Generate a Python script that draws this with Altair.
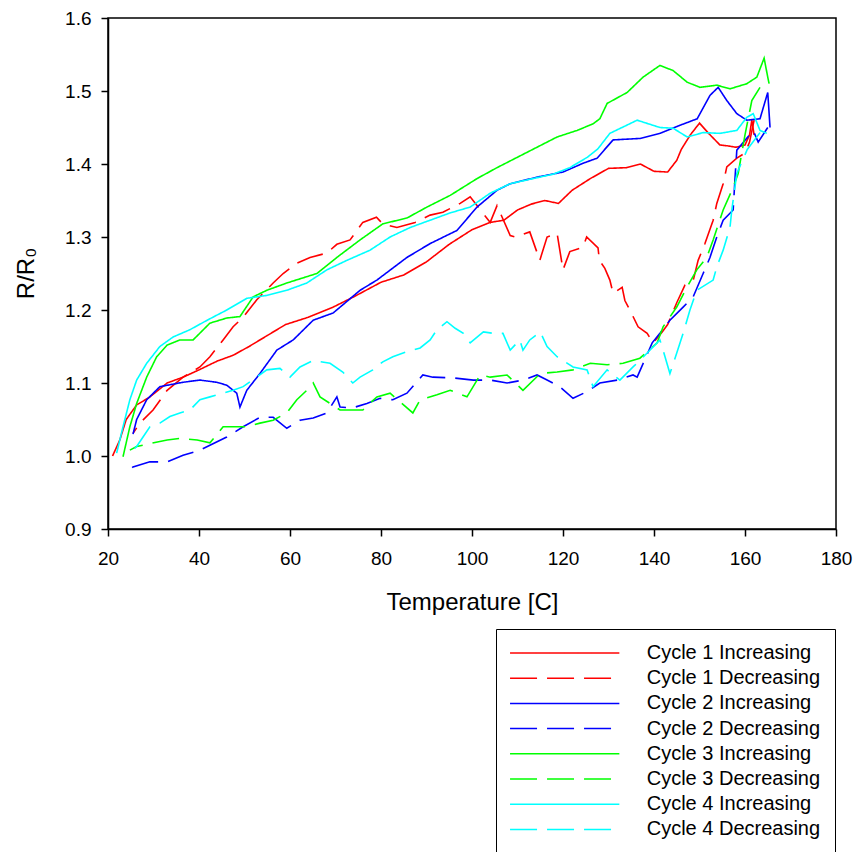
import altair as alt
import pandas as pd

# ---------------- data ----------------
series_names = [
    "Cycle 1 Increasing", "Cycle 1 Decreasing",
    "Cycle 2 Increasing", "Cycle 2 Decreasing",
    "Cycle 3 Increasing", "Cycle 3 Decreasing",
    "Cycle 4 Increasing", "Cycle 4 Decreasing",
]
series_colors = ["#FF0000", "#FF0000", "#0000FF", "#0000FF",
                 "#00FF00", "#00FF00", "#00FFFF", "#00FFFF"]

c1_inc_T = [21, 22.6, 24, 26.3, 29, 33, 36.5, 40, 44, 47.5, 51, 55, 59, 64, 69.5, 74, 80, 85, 90, 95,
            100, 104, 107, 110, 113, 116, 119, 122, 126, 130, 134, 137, 140, 143, 145, 146, 148, 150,
            152, 154.5, 156, 158, 160, 161, 161.5, 162]
c1_inc_R = [1.0, 1.022, 1.05, 1.07, 1.08, 1.1, 1.108, 1.118, 1.13, 1.138, 1.15, 1.165, 1.18, 1.19,
            1.204, 1.218, 1.238, 1.248, 1.266, 1.29, 1.31, 1.32, 1.323, 1.337, 1.345, 1.35, 1.346,
            1.364, 1.38, 1.394, 1.395, 1.40, 1.39, 1.389, 1.405, 1.42, 1.44, 1.456, 1.442, 1.426,
            1.425, 1.423, 1.426, 1.44, 1.46, 1.44]

c1_dec_T = [162, 161, 160, 158.2, 156, 155.2, 153.8, 153, 151.2, 149.7, 148.6, 146.8, 145, 143, 141.8,
            139.8, 138.5, 136.5, 134.7, 133.6, 133, 131, 130.3, 129.2, 128, 127.7, 125.2, 124.4, 121.5,
            120, 118.7, 116.5, 114.9, 112.7, 109.5, 108.4, 105.5, 104, 99.6, 97.4, 93.6, 90.8, 87.5,
            83.5, 80.4, 79, 76, 73.2, 70.3, 68.1, 64.4, 61.5, 58.5, 56.3, 52.7, 49.7, 47.5, 45.3, 42.4,
            40.2, 36.5, 33, 29.9, 27, 25.5]
c1_dec_R = [1.46, 1.43, 1.415, 1.408, 1.396, 1.373, 1.346, 1.323, 1.291, 1.268, 1.24, 1.234, 1.21, 1.18,
            1.17, 1.155, 1.168, 1.177, 1.2, 1.213, 1.231, 1.223, 1.241, 1.257, 1.268, 1.285, 1.30, 1.286,
            1.28, 1.255, 1.305, 1.30, 1.268, 1.307, 1.30, 1.302, 1.343, 1.32, 1.355, 1.346, 1.334, 1.33,
            1.32, 1.313, 1.318, 1.327, 1.32, 1.296, 1.29, 1.278, 1.272, 1.264, 1.25, 1.237, 1.214, 1.19,
            1.177, 1.159, 1.136, 1.122, 1.108, 1.09, 1.063, 1.045, 1.031]

c2_inc_T = [25.5, 26.3, 28.5, 31.4, 36.5, 40.2, 43.9, 46.1, 48.3, 49, 50.5, 53.4, 57.1, 60.7, 65.1,
            69.5, 75.4, 79.1, 85.7, 90.8, 96.7, 101.1, 105.5, 108.4, 114.3, 120, 124.4, 127.5, 131,
            136.9, 141.3, 145.7, 149.5, 152.3, 154.1, 156, 158.2, 160.4, 163.3, 165, 165.5]
c2_inc_R = [1.03, 1.05, 1.077, 1.095, 1.101, 1.104, 1.101, 1.097, 1.086, 1.067, 1.09, 1.113, 1.145,
            1.159, 1.186, 1.196, 1.227, 1.241, 1.272, 1.291, 1.309, 1.341, 1.364, 1.373, 1.382, 1.389,
            1.401, 1.408, 1.433, 1.435, 1.442, 1.453, 1.462, 1.494, 1.505, 1.487, 1.469, 1.46, 1.462,
            1.498, 1.45]

c2_dec_T = [165, 162.9, 161.8, 158.2, 157.8, 157.4, 155.2, 153.8, 152.3, 150.8, 148.6, 146.4, 143.5,
            141.3, 139.6, 136.3, 135.4, 131.9, 128.1, 125.2, 122.2, 119.3, 116.5, 114.3, 111.2, 107.7,
            104, 100.3, 95.8, 91.4, 89.2, 85.7, 82.6, 79.8, 76.9, 73.8, 71, 70.3, 68.1, 65.1, 62.2,
            59.3, 56.3, 53.4, 49.7, 46.1, 40.2, 36.5, 33, 29.2, 25.5, 24.1]
c2_dec_R = [1.45, 1.43, 1.446, 1.419, 1.38, 1.337, 1.323, 1.3, 1.272, 1.25, 1.218, 1.204, 1.186, 1.168,
            1.155, 1.108, 1.111, 1.104, 1.1, 1.088, 1.079, 1.095, 1.104, 1.111, 1.104, 1.1, 1.104,
            1.104, 1.107, 1.108, 1.111, 1.086, 1.077, 1.079, 1.072, 1.066, 1.067, 1.081, 1.059, 1.052,
            1.049, 1.038, 1.053, 1.053, 1.04, 1.026, 1.008, 1.001, 0.992, 0.992, 0.985, 0.978]

c3_inc_T = [23.3, 24.8, 26.3, 28.5, 30.7, 33, 35.8, 38.7, 42.4, 46.1, 49, 51.9, 54.9, 59.3, 65.9, 70.3,
            75.4, 80.4, 85.7, 90.1, 95.2, 101.1, 105.5, 109.9, 114.3, 118.7, 123.1, 126.6, 128.1, 129.7,
            134.1, 137.6, 141.3, 144.2, 147.3, 150.1, 153.8, 156.7, 160.4, 162.6, 164.2, 165, 165.3]
c3_inc_R = [0.999, 1.04, 1.072, 1.108, 1.136, 1.152, 1.159, 1.159, 1.182, 1.189, 1.191, 1.218, 1.227,
            1.237, 1.25, 1.272, 1.296, 1.318, 1.326, 1.341, 1.357, 1.38, 1.395, 1.409, 1.423, 1.437,
            1.446, 1.455, 1.462, 1.483, 1.498, 1.519, 1.535, 1.528, 1.512, 1.505, 1.508, 1.503, 1.51,
            1.519, 1.545, 1.519, 1.51]

c3_dec_T = [163.3, 161.5, 160, 158.5, 157.4, 155.2, 153, 151.6, 149.4, 147.3, 145, 142, 140.7, 136.9,
            133.2, 129.7, 126, 122.2, 118.7, 115, 111.2, 107.7, 104, 101.8, 98.9, 95.2, 92.3, 88.6, 87,
            82, 79.1, 76, 73.2, 71, 66.6, 65.1, 63.7, 61.5, 59.3, 56.3, 53.4, 50.5, 47.5, 45.3, 42.4,
            39.6, 35.8, 33, 29.2, 26.3, 24.8]
c3_dec_R = [1.505, 1.487, 1.44, 1.387, 1.368, 1.337, 1.296, 1.272, 1.255, 1.232, 1.204, 1.177, 1.155,
            1.134, 1.127, 1.125, 1.127, 1.118, 1.115, 1.113, 1.09, 1.111, 1.108, 1.111, 1.081, 1.09,
            1.084, 1.077, 1.059, 1.086, 1.081, 1.063, 1.063, 1.063, 1.081, 1.1, 1.09, 1.077, 1.059,
            1.049, 1.045, 1.04, 1.04, 1.04, 1.018, 1.022, 1.024, 1.022, 1.017, 1.013, 1.008]

c4_inc_T = [21.9, 23.3, 24.8, 26.3, 28.5, 31.4, 34.3, 38, 41.8, 46.1, 50.5, 54.9, 59.3, 63.7, 68.1,
            72.5, 77.6, 82, 86.4, 90.8, 95.2, 99.6, 104, 108.4, 113.4, 117.8, 121.5, 125.3, 127.7,
            130.3, 136.3, 141.3, 144.2, 147.3, 150.8, 154.5, 158.2, 160.4, 161.8, 163.3, 164.8]
c4_inc_R = [1.004, 1.04, 1.077, 1.104, 1.127, 1.15, 1.163, 1.173, 1.186, 1.2, 1.216, 1.22, 1.227,
            1.237, 1.255, 1.268, 1.282, 1.3, 1.313, 1.323, 1.333, 1.341, 1.36, 1.373, 1.38, 1.386,
            1.395, 1.409, 1.421, 1.442, 1.46, 1.45, 1.449, 1.437, 1.443, 1.442, 1.446, 1.464, 1.469,
            1.446, 1.442]

c4_dec_T = [163.3, 160.5, 158.2, 157.1, 156.7, 155.2, 153.8, 153, 149.4, 147.9, 146.4, 145, 143.5, 142,
            141.3, 136.9, 135.4, 132.5, 129.7, 126.6, 125.3, 122.2, 118.7, 116.5, 115, 112.7, 111.2,
            110.5, 108.4, 106.8, 104.7, 102.5, 99.6, 98.1, 96.3, 94.5, 92.3, 90.8, 88.6, 85.7, 82.6,
            80.4, 78.2, 75.4, 73.8, 71.6, 68.8, 65.1, 62.2, 60, 57.8, 54.9, 52.7, 49.7, 47.5, 45.3,
            42.4, 40.2, 38, 35.8, 33.6, 31.4, 29.2, 27.7, 26.3, 25.5]
c4_dec_R = [1.443, 1.42, 1.387, 1.337, 1.313, 1.282, 1.259, 1.241, 1.227, 1.2, 1.168, 1.141, 1.113,
            1.145, 1.159, 1.131, 1.122, 1.104, 1.118, 1.095, 1.118, 1.122, 1.136, 1.15, 1.17, 1.159,
            1.145, 1.159, 1.145, 1.168, 1.168, 1.17, 1.155, 1.168, 1.175, 1.184, 1.173, 1.159, 1.148,
            1.143, 1.136, 1.129, 1.118, 1.108, 1.1, 1.115, 1.127, 1.131, 1.122, 1.108, 1.12, 1.118,
            1.108, 1.095, 1.09, 1.086, 1.081, 1.077, 1.063, 1.059, 1.054, 1.045, 1.04, 1.026, 1.013,
            1.008]

x_ticks = [20, 40, 60, 80, 100, 120, 140, 160, 180]
y_ticks = [0.9, 1.0, 1.1, 1.2, 1.3, 1.4, 1.5, 1.6]

# ---------------- build table ----------------
series_data = [
    (c1_inc_T, c1_inc_R), (c1_dec_T, c1_dec_R),
    (c2_inc_T, c2_inc_R), (c2_dec_T, c2_dec_R),
    (c3_inc_T, c3_inc_R), (c3_dec_T, c3_dec_R),
    (c4_inc_T, c4_inc_R), (c4_dec_T, c4_dec_R),
]
rows = []
for name, (ts, rs) in zip(series_names, series_data):
    assert len(ts) == len(rs), name
    for i, (t, r) in enumerate(zip(ts, rs)):
        rows.append({"series": name, "T": t, "R": r, "idx": i})
df = pd.DataFrame(rows)

SOLID = [1, 0]
DASH = [27, 10]
series_dashes = [SOLID, DASH] * 4

FONT = "Liberation Sans"

legend_kw = dict(
    orient="none", legendX=388, legendY=611, title=None,
    symbolType="M-6,0H6", symbolSize=332, symbolStrokeWidth=1.5,
    symbolOffset=44.7, labelOffset=72,
    labelFont=FONT, labelFontSize=20, labelColor="black", labelLimit=400,
    strokeColor="black", fillColor="white", padding=14, rowPadding=5.2,
)

chart = alt.Chart(df).mark_line(strokeWidth=1.6).encode(
    x=alt.X("T:Q",
            scale=alt.Scale(domain=[20, 180], nice=False, zero=False),
            axis=alt.Axis(values=x_ticks, title="Temperature [C]", grid=False,
                          domainColor="black", domainWidth=1.5, tickColor="black",
                          tickWidth=1.5, tickSize=7, labelFont=FONT, labelFontSize=19,
                          labelColor="black", labelPadding=13, labelFlush=False,
                          titleFont=FONT, titleFontSize=24, titleFontWeight="normal",
                          titleColor="black", titleBaseline="alphabetic",
                          titleX=364, titleY=80)),
    y=alt.Y("R:Q",
            scale=alt.Scale(domain=[0.9, 1.6], nice=False, zero=False),
            axis=alt.Axis(values=y_ticks, format=".1f", title="R/R\u2080", grid=False,
                          domainColor="black", domainWidth=1.5, tickColor="black",
                          tickWidth=1.5, tickSize=7, labelFont=FONT, labelFontSize=19,
                          labelColor="black", labelPadding=10, labelFlush=False,
                          titleFont=FONT, titleFontSize=24, titleFontWeight="normal",
                          titleColor="black", titleBaseline="alphabetic",
                          titleAngle=270, titleX=-75, titleY=255, titleAlign="center")),
    color=alt.Color("series:N",
                    scale=alt.Scale(domain=series_names, range=series_colors),
                    legend=alt.Legend(**legend_kw)),
    strokeDash=alt.StrokeDash("series:N",
                              scale=alt.Scale(domain=series_names, range=series_dashes),
                              legend=alt.Legend(**legend_kw)),
    order=alt.Order("idx:Q"),
).properties(
    width=728, height=511,
    autosize=alt.AutoSizeParams(type="none"),
    padding={"left": 108, "top": 18, "right": 20, "bottom": 323},
    background="white",
).configure_view(stroke="black", strokeWidth=1.5)

chart.save("out.html", embed_options={"renderer": "svg", "actions": False})
